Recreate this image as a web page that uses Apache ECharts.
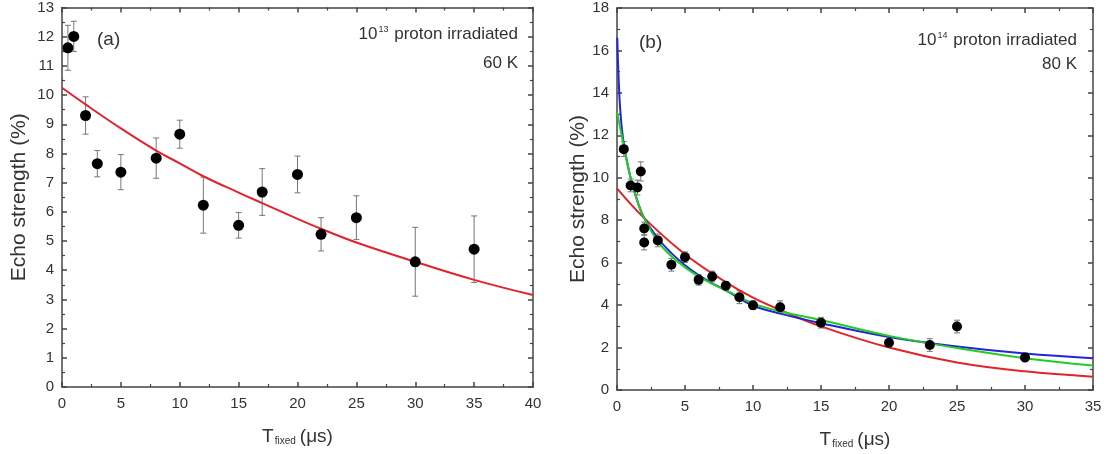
<!DOCTYPE html>
<html><head><meta charset="utf-8">
<script src="https://cdn.jsdelivr.net/npm/echarts@6/dist/echarts.min.js"></script>
<style>html,body{margin:0;padding:0;background:#fff}#c{width:1107px;height:454px}</style>
</head><body><div id="c"></div>
<script>
// Panel (a): 10^13 proton irradiated, 60 K
const aX   = [0.5, 1, 2, 3, 5, 8, 10, 12, 15, 17, 20, 22, 25, 30, 35];
const aY   = [11.62, 12.01, 9.30, 7.65, 7.36, 7.84, 8.66, 6.23, 5.54, 6.68, 7.28, 5.23, 5.80, 4.29, 4.72];
const aErr = [0.77, 0.52, 0.64, 0.45, 0.60, 0.69, 0.48, 0.96, 0.44, 0.80, 0.63, 0.57, 0.75, 1.18, 1.14];
const aFitX = [0, 2, 5, 8, 10, 12, 15, 17, 20, 22, 25, 30, 35, 40];
const aFitY = [10.25, 9.68, 8.86, 8.1, 7.66, 7.22, 6.66, 6.3, 5.76, 5.42, 4.95, 4.29, 3.67, 3.15];

// Panel (b): 10^14 proton irradiated, 80 K
const bX   = [0.5, 1, 1.5, 1.75, 2, 2, 3, 4, 5, 6, 7, 8, 9, 10, 12, 15, 20, 23, 25, 30];
const bY   = [11.35, 9.64, 9.54, 10.3, 7.61, 6.95, 7.05, 5.9, 6.26, 5.19, 5.35, 4.91, 4.37, 3.99, 3.90, 3.17, 2.23, 2.12, 2.99, 1.53];
const bErr = [0.35, 0.3, 0.35, 0.45, 0.3, 0.35, 0.3, 0.3, 0.25, 0.25, 0.25, 0.2, 0.3, 0.2, 0.3, 0.25, 0.15, 0.3, 0.3, 0.2];
const bRedX = [0, 2, 5, 8, 10, 12, 15, 20, 25, 30, 35];
const bRedY = [9.5, 8.1, 6.4, 5.08, 4.35, 3.77, 3.0, 2.0, 1.3, 0.88, 0.63];
const bBlueX = [0.02, 0.1, 0.25, 0.5, 1, 1.5, 2, 3, 4, 5, 6, 7, 8, 10, 12, 15, 20, 25, 30, 35];
const bBlueY = [16.6, 15.0, 13.1, 11.6, 10.0, 8.9, 8.1, 7.15, 6.45, 5.88, 5.42, 5.03, 4.7, 3.98, 3.6, 3.15, 2.5, 2.05, 1.72, 1.5];
const bGreenX = [0, 0.25, 0.5, 1, 1.5, 2, 3, 4, 5, 6, 7, 8, 10, 12, 15, 20, 25, 30, 35];
const bGreenY = [13.1, 12.3, 11.5, 10.0, 8.9, 8.1, 7.0, 6.3, 5.78, 5.35, 5.0, 4.7, 4.08, 3.7, 3.3, 2.55, 1.98, 1.5, 1.15];

const aTicksX = [0, 40, 5], aTicksY = [0, 13, 1];
const bTicksX = [0, 35, 5], bTicksY = [0, 18, 2];

const zip = (xs, ys) => xs.map((x, i) => [x, ys[i]]);
const axisLine = { onZero: false, lineStyle: { color: '#444', width: 1.5 } };
const FONT = 'Liberation Sans, Arial, sans-serif';
const labelStyle = { color: '#333', fontSize: 15, fontFamily: FONT };

function mkX(gi, t, top, name) {
  return {
    type: 'value', gridIndex: gi, min: t[0], max: t[1], interval: t[2],
    position: top ? 'top' : 'bottom',
    axisLine: axisLine, splitLine: { show: false },
    axisTick: { inside: true, length: 5, lineStyle: { color: '#444', width: 1.5 } },
    minorTick: { show: true, splitNumber: 2, length: 3, lineStyle: { color: '#444', width: 1.2 } },
    axisLabel: top ? { show: false } : Object.assign({ margin: 9 }, labelStyle),
    name: top ? '' : name, nameLocation: 'middle', nameGap: 40,
    nameTextStyle: { color: '#333', fontFamily: FONT,
      rich: { t: { fontSize: 19, color: '#333', fontFamily: FONT },
              s: { fontSize: 10, color: '#333', fontFamily: FONT, verticalAlign: 'bottom', padding: [9, 4, 0, 1] } } }
  };
}
function mkY(gi, t, right, gap) {
  return {
    type: 'value', gridIndex: gi, min: t[0], max: t[1], interval: t[2],
    position: right ? 'right' : 'left',
    axisLine: axisLine, splitLine: { show: false },
    axisTick: { inside: true, length: 5, lineStyle: { color: '#444', width: 1.5 } },
    minorTick: { show: true, splitNumber: 2, length: 3, lineStyle: { color: '#444', width: 1.2 } },
    axisLabel: right ? { show: false } : Object.assign({ margin: 8 }, labelStyle),
    name: right ? '' : 'Echo strength (%)', nameLocation: 'middle', nameGap: gap, nameRotate: 90,
    nameTextStyle: { color: '#333', fontSize: 21, fontFamily: FONT }
  };
}
function errSeries(xi, yi, xs, ys, es) {
  return {
    type: 'custom', xAxisIndex: xi, yAxisIndex: yi, z: 2,
    data: xs.map((x, i) => [x, ys[i] - es[i], ys[i] + es[i]]),
    renderItem: function (params, api) {
      const lo = api.coord([api.value(0), api.value(1)]);
      const hi = api.coord([api.value(0), api.value(2)]);
      const w = 3;
      const st = { stroke: '#777', lineWidth: 1 };
      return { type: 'group', children: [
        { type: 'line', shape: { x1: lo[0], y1: lo[1], x2: hi[0], y2: hi[1] }, style: st },
        { type: 'line', shape: { x1: lo[0] - w, y1: lo[1], x2: lo[0] + w, y2: lo[1] }, style: st },
        { type: 'line', shape: { x1: hi[0] - w, y1: hi[1], x2: hi[0] + w, y2: hi[1] }, style: st }
      ]};
    }
  };
}
function fitLine(xi, yi, xs, ys, color) {
  return { type: 'line', xAxisIndex: xi, yAxisIndex: yi, data: zip(xs, ys), smooth: 0.4,
    showSymbol: false, symbol: 'none', lineStyle: { color: color, width: 2 }, z: 3, silent: true };
}
function pts(xi, yi, xs, ys, size) {
  return { type: 'scatter', xAxisIndex: xi, yAxisIndex: yi, data: zip(xs, ys),
    symbol: 'circle', symbolSize: size, itemStyle: { color: '#000', opacity: 1 }, z: 4 };
}

const xName = '{t|T}{s|fixed}{t|(μs)}';
const richAnn = { a: { fontSize: 17, fontFamily: FONT, fill: '#333' },
                  s: { fontSize: 9, fontFamily: FONT, fill: '#333', verticalAlign: 'top', padding: [0, 1, 10, 1] } };
const chart = echarts.init(document.getElementById('c'), null, { renderer: 'canvas' });
chart.setOption({
  animation: false,
  backgroundColor: '#fff',
  grid: [
    { left: 62, right: 574, top: 6, bottom: 67 },
    { left: 617, right: 14, top: 8, bottom: 64 }
  ],
  xAxis: [mkX(0, aTicksX, false, xName), mkX(0, aTicksX, true), mkX(1, bTicksX, false, xName), mkX(1, bTicksX, true)],
  yAxis: [mkY(0, aTicksY, false, 32), mkY(0, aTicksY, true), mkY(1, bTicksY, false, 27), mkY(1, bTicksY, true)],
  series: [
    errSeries(0, 0, aX, aY, aErr),
    fitLine(0, 0, aFitX, aFitY, '#e0242b'),
    pts(0, 0, aX, aY, 11),
    errSeries(2, 2, bX, bY, bErr),
    fitLine(2, 2, bRedX, bRedY, '#e0242b'),
    fitLine(2, 2, bBlueX, bBlueY, '#2424d8'),
    fitLine(2, 2, bGreenX, bGreenY, '#22cc22'),
    pts(2, 2, bX, bY, 10)
  ],
  graphic: [
    { type: 'text', left: 97, top: 30, style: { text: '(a)', fontSize: 19, fill: '#333', fontFamily: FONT } },
    { type: 'text', left: 639, top: 33, style: { text: '(b)', fontSize: 19, fill: '#333', fontFamily: FONT } },
    { type: 'text', right: 1107 - 518, top: 25, style: { text: '{a|10}{s|13}{a| proton irradiated}', fill: '#333', rich: richAnn } },
    { type: 'text', right: 1107 - 518, top: 55, style: { text: '60 K', fontSize: 17, fill: '#333', fontFamily: FONT } },
    { type: 'text', right: 1107 - 1077, top: 31, style: { text: '{a|10}{s|14}{a| proton irradiated}', fill: '#333', rich: richAnn } },
    { type: 'text', right: 1107 - 1077, top: 56, style: { text: '80 K', fontSize: 17, fill: '#333', fontFamily: FONT } }
  ]
});
</script></body></html>
